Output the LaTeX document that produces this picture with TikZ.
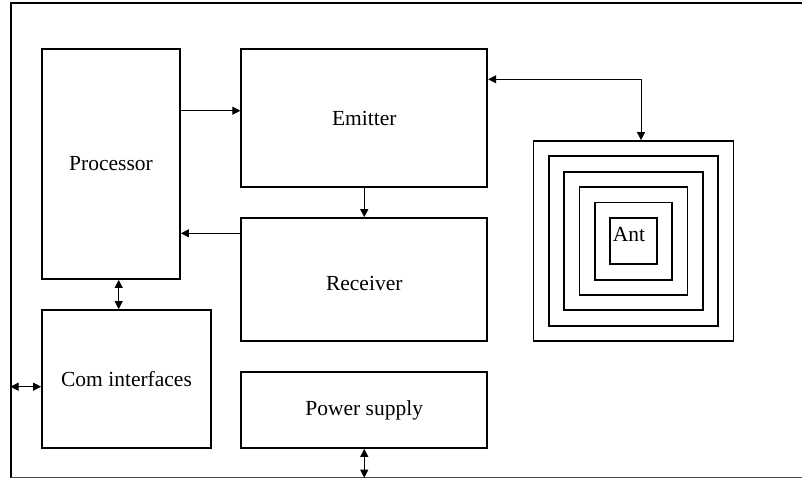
\documentclass[tikz,border=0pt]{standalone}
\usepackage{fontspec}
\setmainfont{Liberation Serif}
\usetikzlibrary{arrows.meta}

\begin{document}
\begin{tikzpicture}
[x=1pt,y=-1pt,every node/.style={draw,line width=1.8pt,inner sep=0pt,font=\fontsize{21.5}{25}\selectfont}]
\useasboundingbox (0,0) rectangle (802,479);
\coordinate (ftl) at (10.5,2.7);
\coordinate (fbl) at (10.5,477.7);
\draw[line width=2pt] (802,2.7) -- (ftl) -- (fbl);
\draw[line width=1pt,black!70] (fbl) -- (802,477.7);
\node[minimum width=138pt,minimum height=230pt] (proc) at (111,164) {Processor};
\node[minimum width=246pt,minimum height=138pt] (emit) at (364.25,118) {Emitter};
\node[minimum width=246pt,minimum height=123pt,text height=22pt] (recv) at (364.25,279.5) {Receiver};
\node[minimum width=169pt,minimum height=138pt] (com) at (126.5,379) {Com interfaces};
\node[minimum width=246pt,minimum height=76pt] (psu) at (364.25,410) {Power supply};
\foreach \i [evaluate=\i as \s using 200-30.7*\i] in {0,...,5}
  \node[minimum size=\s pt] (ant\i) at (633.5,241) {};
\node[draw=none] (antlbl) at (629,234.5) {Ant};
\tikzset{EdgeStyle/.style={line width=1pt,-{Triangle[length=8pt,width=8pt]}}}
\tikzset{BothStyle/.style={line width=1pt,{Triangle[length=8pt,width=8pt]}-{Triangle[length=8pt,width=8pt]}}}
\draw[EdgeStyle] ([yshift=53.3pt]proc.east) -- ([yshift=7.3pt]emit.west);
\draw[EdgeStyle] ([yshift=46.2pt]recv.west) -- ([yshift=-69.3pt]proc.east);
\draw[EdgeStyle] (emit.south) -- (recv.north);
\draw[BothStyle] ([yshift=38.7pt]emit.east) -| ([xshift=7.5pt]ant0.north);
\draw[BothStyle] ([xshift=7.7pt]proc.south) -- ([xshift=-7.8pt]com.north);
\draw[BothStyle] ([yshift=-7.7pt]com.west) -- ([yshift=-7.7pt]com.west -| ftl);
\draw[BothStyle] (psu.south) -- (psu.south |- fbl);
\end{tikzpicture}
\end{document}
